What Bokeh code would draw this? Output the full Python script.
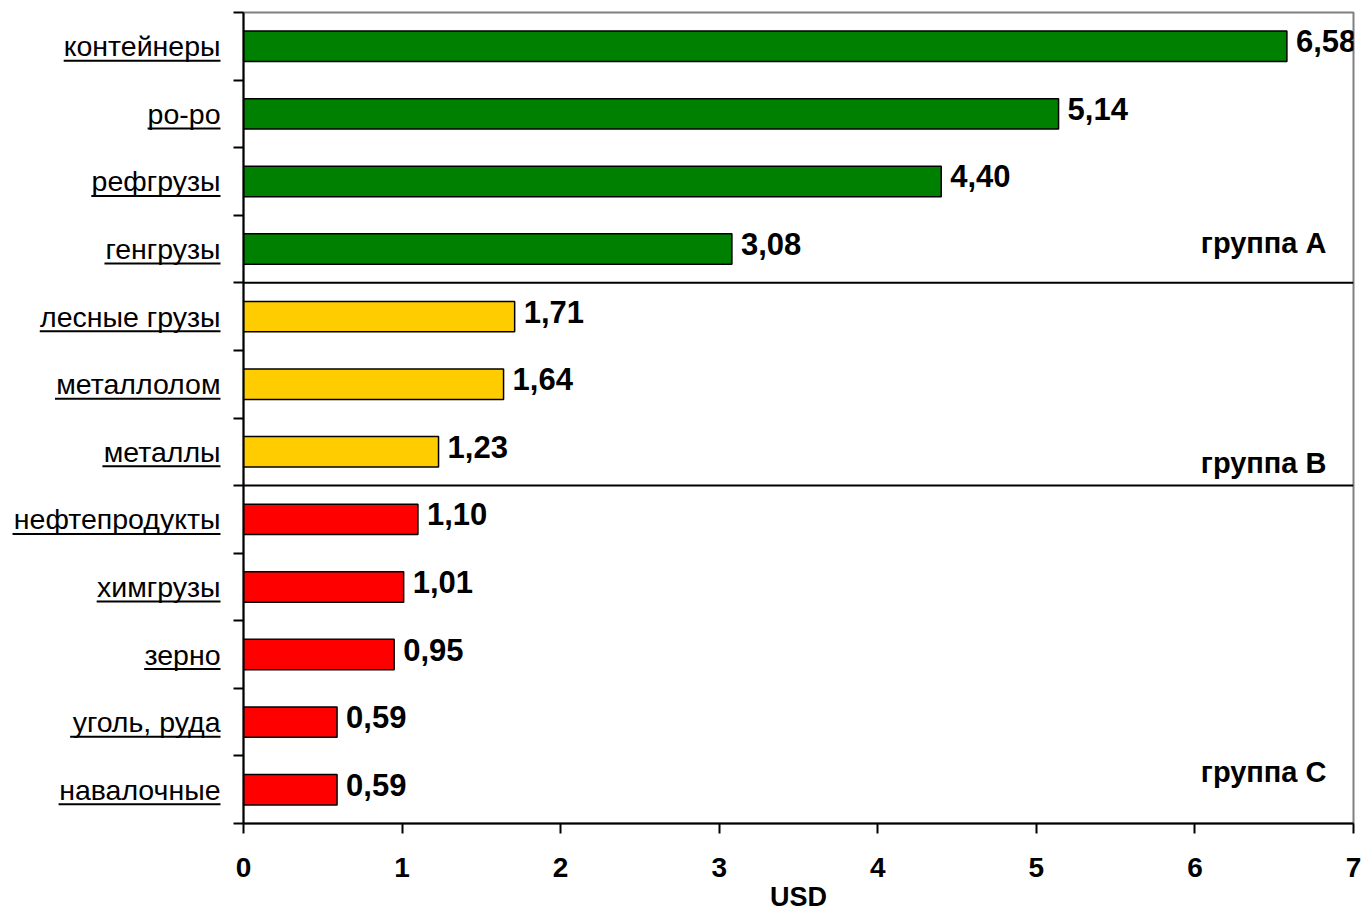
from bokeh.plotting import figure
from bokeh.models import Range1d, FixedTicker, LabelSet, Label, ColumnDataSource, Span
from bokeh.layouts import row
from bokeh.embed import file_html
from bokeh.resources import INLINE
from bokeh.core.properties import value

# ---- data (bottom to top) ----
categories = ["навалочные", "уголь, руда", "зерно", "химгрузы", "нефтепродукты",
              "металлы", "металлолом", "лесные грузы",
              "генгрузы", "рефгрузы", "ро-ро", "контейнеры"]
values = [0.59, 0.59, 0.95, 1.01, 1.10, 1.23, 1.64, 1.71, 3.08, 4.40, 5.14, 6.58]
groups = ["C", "C", "C", "C", "C", "B", "B", "B", "A", "A", "A", "A"]
group_names = ["A", "B", "C"]
group_titles = ["группа A", "группа B", "группа C"]
group_colors = ["#008000", "#FFCC00", "#FF0000"]
x_ticks = [0, 1, 2, 3, 4, 5, 6, 7]
x_title = "USD"

# ---- layout / style ----
FONT = "Liberation Sans"
TOP, FRAME_H, BOTTOM = 12, 811, 91
H = TOP + FRAME_H + BOTTOM
LW, YAX, FRAME_W, RIGHT = 233, 10, 1110, 8
n = len(categories)
ppu = FRAME_H / n
group_label_lift = [40, 23, 52]  # px of title centre above group's lower boundary

cw = {'а': .556, 'б': .573, 'в': .531, 'г': .365, 'д': .583, 'е': .556, 'ж': .669, 'з': .458,
      'и': .559, 'й': .559, 'к': .438, 'л': .583, 'м': .688, 'н': .552, 'о': .556, 'п': .542,
      'р': .556, 'с': .5, 'т': .458, 'у': .5, 'ф': .823, 'х': .5, 'ц': .573, 'ч': .521,
      'ш': .802, 'щ': .823, 'ъ': .625, 'ы': .719, 'ь': .521, 'э': .51, 'ю': .75, 'я': .542,
      ' ': .278, '-': .333, ',': .278}
CAT_FS = 28.5

y_range = Range1d(0, n)
centers = [i + 0.5 for i in range(n)]
colors = [group_colors[group_names.index(g)] for g in groups]
texts = [f"{v:.2f}".replace(".", ",") for v in values]
src = ColumnDataSource(dict(y=centers, v=values, c=colors, t=texts))


def style_xaxis(ax, visible=True):
    ink = "black" if visible else None
    ax.ticker = FixedTicker(ticks=x_ticks)
    ax.axis_line_color = ink
    ax.axis_line_width = 2
    ax.major_tick_line_color = ink
    ax.major_tick_line_width = 2
    ax.major_tick_out = 10
    ax.major_tick_in = 0
    ax.minor_tick_line_color = None
    ax.major_label_text_font = FONT
    ax.major_label_text_font_style = "bold"
    ax.major_label_text_font_size = "28px"
    ax.major_label_text_color = ink
    ax.major_label_standoff = 24
    ax.axis_label = x_title
    ax.axis_label_text_font = FONT
    ax.axis_label_text_font_style = "bold"
    ax.axis_label_text_font_size = "27px"
    ax.axis_label_text_color = ink
    ax.axis_label_standoff = 2


p = figure(width=YAX + FRAME_W + RIGHT, height=H, x_range=Range1d(0, 7), y_range=y_range,
           output_backend="svg", toolbar_location=None,
           min_border_left=0, min_border_right=RIGHT, min_border_top=TOP, min_border_bottom=BOTTOM)
p.grid.visible = False
p.outline_line_color = "#808080"
p.outline_line_width = 2
p.background_fill_color = "white"

p.hbar(y="y", left=0, right="v", height=0.45, fill_color="c", line_color="black",
       line_width=1.5, source=src)

style_xaxis(p.xaxis[0])

# y axis (ticks at category boundaries, no labels)
ya = p.yaxis[0]
ya.ticker = FixedTicker(ticks=list(range(n + 1)))
ya.major_label_overrides = {i: "" for i in range(n + 1)}
ya.major_label_text_font_size = "1px"
ya.major_label_standoff = 0
ya.axis_line_color = "black"
ya.axis_line_width = 2
ya.major_tick_line_color = "black"
ya.major_tick_line_width = 2
ya.major_tick_out = 10
ya.major_tick_in = 0
ya.minor_tick_line_color = None

# group separators and titles
for i in range(1, n):
    if groups[i] != groups[i - 1]:
        p.add_layout(Span(location=i, dimension="width", line_color="black", line_width=2))
for gi, g in enumerate(group_names):
    lower = min(i for i in range(n) if groups[i] == g)
    p.add_layout(Label(x=7, x_offset=-27, y=lower + group_label_lift[gi] / ppu,
                       text=group_titles[gi], text_align="right", text_baseline="middle",
                       text_font=FONT, text_font_style="bold", text_font_size="29px",
                       text_color="black"))

# value labels
p.add_layout(LabelSet(x="v", y="y", text="t", source=src, x_offset=9, y_offset=5,
                      text_align="left", text_baseline="middle", text_font=value(FONT),
                      text_font_style="bold", text_font_size="31px", text_color="black"))

# ---- left label panel ----
L = figure(width=LW, height=H, x_range=Range1d(0, LW), y_range=y_range,
           output_backend="svg", toolbar_location=None, y_axis_location=None,
           min_border_left=0, min_border_right=0, min_border_top=TOP, min_border_bottom=BOTTOM)
L.grid.visible = False
L.outline_line_color = None
style_xaxis(L.xaxis[0], visible=False)  # invisible twin keeps both frames aligned
xr = LW - 13
L.text(x=[xr] * n, y=centers, text=categories,
       text_align="right", text_baseline="middle", text_font=value(FONT),
       text_font_size=f"{CAT_FS}px", text_color="black")
widths = [sum(cw.get(ch, .55) for ch in cat) * CAT_FS for cat in categories]
uy = [c - 14.5 / ppu for c in centers]
L.segment(x0=[xr - w for w in widths], y0=uy, x1=[xr] * n, y1=uy, line_color="black", line_width=2)

layout = row(L, p)
open("out.html", "w").write(file_html(layout, INLINE))
